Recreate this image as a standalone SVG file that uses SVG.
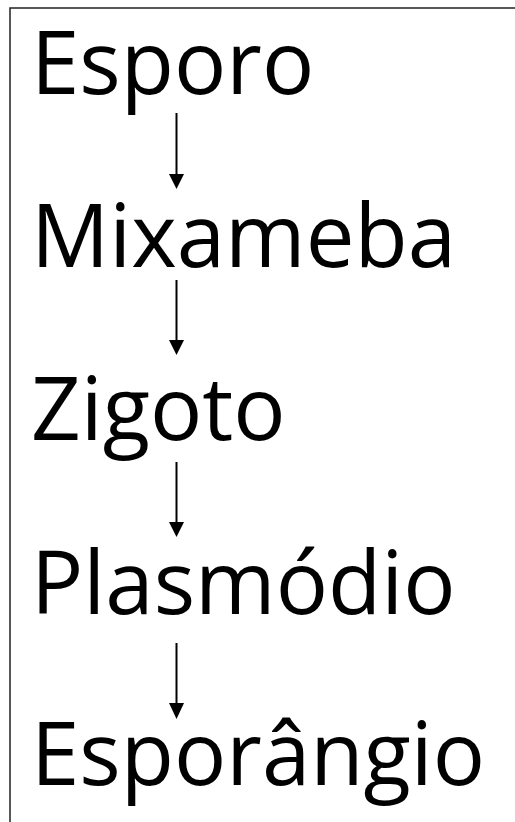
<svg xmlns="http://www.w3.org/2000/svg" width="515" height="822" viewBox="0 0 515 822">
<style>
.t{font-family:"Open Sans","Noto Sans",sans-serif;font-size:87px;fill:#000}
.c{stroke:#000;stroke-width:2;fill:none}
.h{fill:#000}
</style>
<rect width="515" height="822" fill="#fff"/>
<rect x="10" y="8" width="600" height="900" fill="none" stroke="#222" stroke-width="1.5"/>
<g id="n1"><text class="t" x="31" y="94">Esporo</text></g>
<g id="n2"><text class="t" x="31" y="267">Mixameba</text></g>
<g id="n3"><text class="t" x="31" y="440">Zigoto</text></g>
<g id="n4"><text class="t" x="31" y="614">Plasmódio</text></g>
<g id="n5"><text class="t" x="31" y="785">Esporângio</text></g>
<g id="connectors">
<line class="c" x1="176.5" y1="113" x2="176.5" y2="176"/><polygon class="h" points="169,174 184,174 176.5,189"/>
<line class="c" x1="176.5" y1="280" x2="176.5" y2="342"/><polygon class="h" points="169,340 184,340 176.5,355"/>
<line class="c" x1="176.5" y1="462" x2="176.5" y2="524"/><polygon class="h" points="169,522 184,522 176.5,537"/>
<line class="c" x1="176.5" y1="643" x2="176.5" y2="705"/><polygon class="h" points="169,703 184,703 176.5,719"/>
</g>
</svg>
